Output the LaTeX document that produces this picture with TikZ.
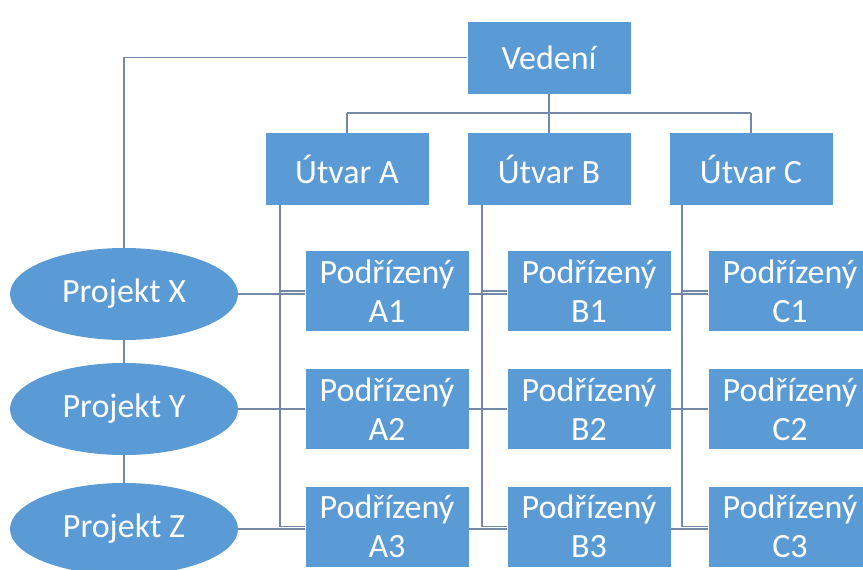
\documentclass[tikz,border=0pt]{standalone}
\usepackage{fontspec}
\setmainfont{Carlito}
\usetikzlibrary{shapes.geometric}
\definecolor{boxblue}{HTML}{5B9BD5}
\definecolor{linegray}{HTML}{7589A6}
\tikzset{
  unit/.style={rectangle, fill=boxblue, text=white, inner sep=0pt,
    minimum width=163pt, minimum height=80pt, align=center,
    font=\fontsize{34}{39}\selectfont},
  head/.style={unit, minimum width=163pt, minimum height=72pt},
  project/.style={ellipse, fill=boxblue, text=white, inner sep=0pt,
    minimum width=228pt, minimum height=92pt,
    font=\fontsize{34}{39}\selectfont},
  conn/.style={draw=linegray, line width=1.4pt},
}
\begin{document}
\begin{tikzpicture}[x=1pt,y=-1pt]
  \useasboundingbox (0,0) rectangle (863,570);
  \fill[white] (0,0) rectangle (863,570);
  \clip (0,0) rectangle (863,570);

  % management and departments
  \node[head] (ved) at (549,57.5) {Vedení};
  \node[head] (ua) at (347,169) {Útvar A};
  \node[head] (ub) at (549,169) {Útvar B};
  \node[head] (uc) at (751,169) {Útvar C};

  % subordinates
  \node[unit] (a1) at (387,291) {Podřízený\\A1};
  \node[unit] (a2) at (387,409) {Podřízený\\A2};
  \node[unit] (a3) at (387,526.5) {Podřízený\\A3};
  \node[unit] (b1) at (589,291) {Podřízený\\B1};
  \node[unit] (b2) at (589,409) {Podřízený\\B2};
  \node[unit] (b3) at (589,526.5) {Podřízený\\B3};
  \node[unit] (c1) at (790,291) {Podřízený\\C1};
  \node[unit] (c2) at (790,409) {Podřízený\\C2};
  \node[unit] (c3) at (790,526.5) {Podřízený\\C3};

  % projects
  \node[project] (px) at (124,294) {Projekt X};
  \node[project] (py) at (124,409) {Projekt Y};
  \node[project] (pz) at (124,529) {Projekt Z};

  % trunk lines of the departments
  \coordinate (xa) at (280,0);
  \coordinate (xb) at (482,0);
  \coordinate (xc) at (682,0);
  \coordinate (bus) at (0,113);

  % management tree
  \draw[conn] (ved.west) -| (px.north);
  \draw[conn] (ved.south) -- (ved.south |- bus);
  \draw[conn] (ua.north |- bus) -- (uc.north |- bus);
  \draw[conn] (ua.north |- bus) -- (ua.north);
  \draw[conn] (ub.north |- bus) -- (ub.north);
  \draw[conn] (uc.north |- bus) -- (uc.north);

  % department to subordinates
  \draw[conn] (ua.south -| xa) |- (a3.west);
  \draw[conn] (xa |- a1.west) -- (a1.west);
  \draw[conn] (xa |- a2.west) -- (a2.west);
  \draw[conn] (ub.south -| xb) |- (b3.west);
  \draw[conn] (xb |- b1.west) -- (b1.west);
  \draw[conn] (xb |- b2.west) -- (b2.west);
  \draw[conn] (uc.south -| xc) |- (c3.west);
  \draw[conn] (xc |- c1.west) -- (c1.west);
  \draw[conn] (xc |- c2.west) -- (c2.west);

  % project chain
  \draw[conn] (px.south) -- (py.north);
  \draw[conn] (py.south) -- (pz.north);

  % project rows across the departments
  \draw[conn] (px.east) -- (px.east -| a1.west);
  \draw[conn] (px.east -| a1.east) -- (px.east -| b1.west);
  \draw[conn] (px.east -| b1.east) -- (px.east -| c1.west);
  \draw[conn] (py.east) -- (py.east -| a2.west);
  \draw[conn] (py.east -| a2.east) -- (py.east -| b2.west);
  \draw[conn] (py.east -| b2.east) -- (py.east -| c2.west);
  \draw[conn] (pz.east) -- (pz.east -| a3.west);
  \draw[conn] (pz.east -| a3.east) -- (pz.east -| b3.west);
  \draw[conn] (pz.east -| b3.east) -- (pz.east -| c3.west);
\end{tikzpicture}
\end{document}
